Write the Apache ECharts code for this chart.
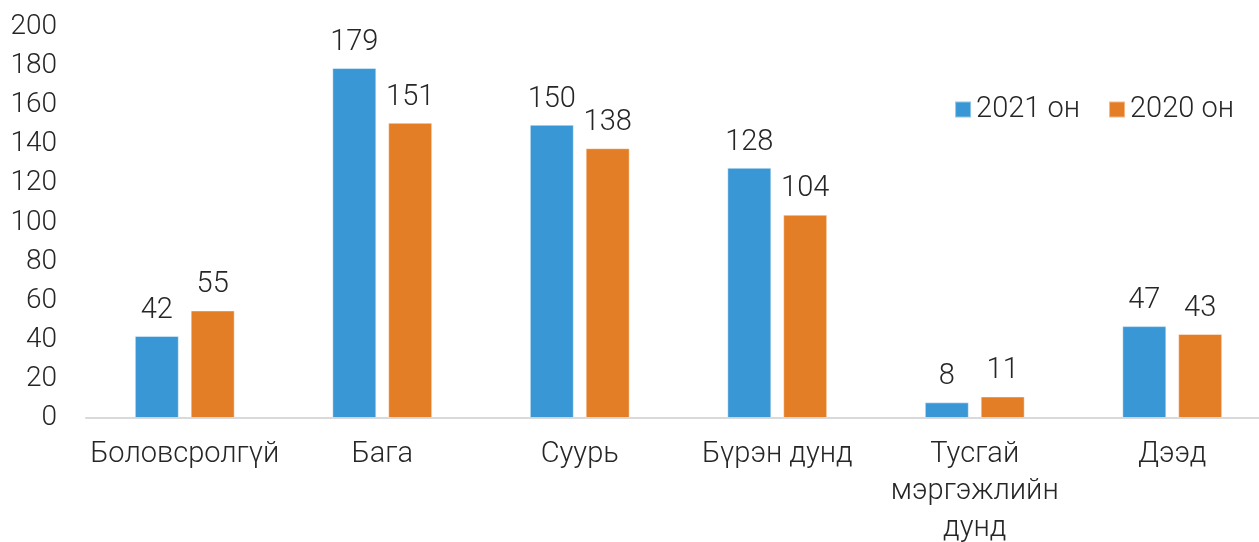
<!DOCTYPE html>
<html>
<head>
<meta charset="utf-8">
<script src="https://cdn.jsdelivr.net/npm/echarts@6/dist/echarts.min.js"></script>
<style>
  html, body { margin: 0; padding: 0; background: #fff; }
  #chart { width: 1259px; height: 542px; }
</style>
</head>
<body>
<div id="chart"></div>
<script>
// Education level categories (Mongolian)
const categories = ['Боловсролгүй', 'Бага', 'Суурь', 'Бүрэн дунд', 'Тусгай\nмэргэжлийн\nдунд', 'Дээд'];
const series2021 = [42, 179, 150, 128, 8, 47];
const series2020 = [55, 151, 138, 104, 11, 43];
const seriesNames = ['2021 он', '2020 он'];
const yTicks = { min: 0, max: 200, interval: 20 };

const textColor = '#262626';
const fontFamily = 'Roboto, "Noto Sans", sans-serif';
const fontSize = 29;

const chart = echarts.init(document.getElementById('chart'), null, { renderer: 'canvas' });

const barLabel = {
  show: true,
  position: 'top',
  distance: 11,
  color: textColor,
  fontFamily: fontFamily,
  fontSize: fontSize,
  fontWeight: 300
};

chart.setOption({
  animation: false,
  backgroundColor: '#ffffff',
  textStyle: { fontFamily: fontFamily },
  grid: { left: 86, top: 27, width: 1185, height: 391, containLabel: false, outerBoundsMode: 'none' },
  legend: {
    data: seriesNames,
    right: 20,
    top: 90,
    itemWidth: 16,
    itemHeight: 16,
    itemGap: 28,
    icon: 'rect',
    textStyle: { color: textColor, fontSize: fontSize, fontWeight: 300, fontFamily: fontFamily }
  },
  xAxis: {
    type: 'category',
    data: categories,
    axisLine: { show: true, lineStyle: { color: '#d9d9d9', width: 2 } },
    axisTick: { show: false },
    axisLabel: {
      color: textColor,
      fontSize: 29,
      fontWeight: 300,
      fontFamily: fontFamily,
      margin: 18,
      lineHeight: 37,
      interval: 0
    }
  },
  yAxis: {
    type: 'value',
    min: yTicks.min,
    max: yTicks.max,
    interval: yTicks.interval,
    splitLine: { show: false },
    axisLine: { show: false },
    axisTick: { show: false },
    axisLabel: {
      color: textColor,
      fontSize: 28,
      fontWeight: 300,
      fontFamily: fontFamily,
      margin: 29
    }
  },
  series: [
    {
      name: seriesNames[0],
      type: 'bar',
      data: series2021,
      barWidth: 44,
      barGap: '27%',
      itemStyle: { color: '#3a97d5', borderColor: 'rgba(255,255,255,0.45)', borderWidth: 1 },
      label: barLabel
    },
    {
      name: seriesNames[1],
      type: 'bar',
      data: series2020,
      barWidth: 44,
      barGap: '27%',
      itemStyle: { color: '#e47e26', borderColor: 'rgba(255,255,255,0.45)', borderWidth: 1 },
      label: barLabel
    }
  ]
});
</script>
</body>
</html>
